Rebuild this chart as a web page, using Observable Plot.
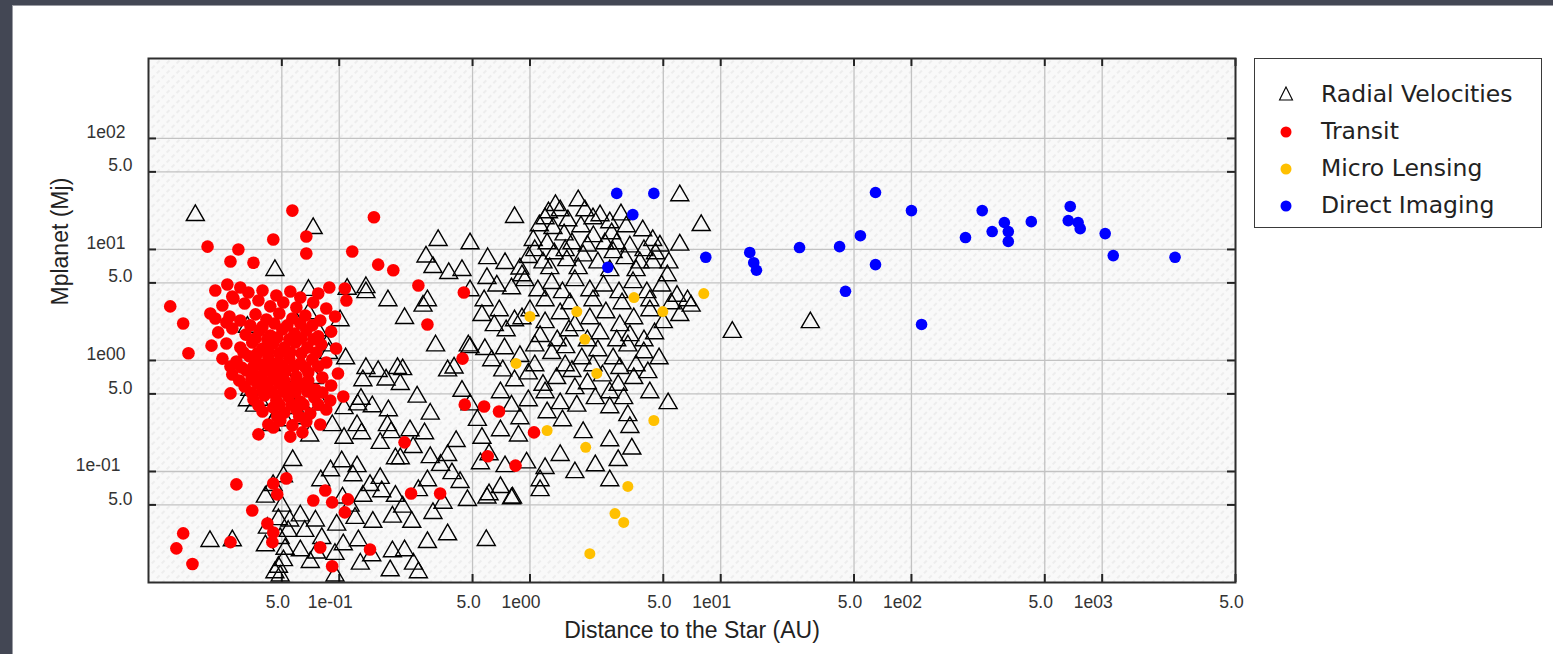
<!DOCTYPE html>
<html><head><meta charset="utf-8">
<script src="https://cdn.jsdelivr.net/npm/d3@7"></script>
<script src="https://cdn.jsdelivr.net/npm/@observablehq/plot@0.6"></script>
<style>
html,body{margin:0;padding:0;background:#fff;}
#page{position:relative;width:1553px;height:654px;background:#434754;overflow:hidden;}
#slide{position:absolute;left:12px;top:5px;right:0;bottom:0;background:#fff;border-top:1px solid #9a9ca3;border-left:1px solid #9a9ca3;}
#chart{position:absolute;left:0;top:0;}
#legend{position:absolute;left:1254px;top:58px;width:288px;height:170px;border:1.5px solid #3a3a3a;background:#fff;box-sizing:border-box;font-family:"DejaVu Sans",sans-serif;font-size:23.5px;color:#222;}
.row{position:absolute;left:0;height:30px;width:100%;}
.row svg{position:absolute;left:21px;top:5px;}
.row span{position:absolute;left:66px;top:1px;line-height:28px;white-space:nowrap;}
</style></head>
<body>
<div id="page"><div id="slide"></div><div id="chart"></div>
<div id="legend"></div></div>
<script>
// ---- data (distance in AU, mass in Jupiter masses) ----
const seriesNames = ["Radial Velocities", "Transit", "Micro Lensing", "Direct Imaging"];
const xTicks = [0.05, 0.1, 0.5, 1, 5, 10, 50, 100, 500, 1000, 5000];
const yTicks = [0.05, 0.1, 0.5, 1, 5, 10, 50, 100];

const radialVelocities = [
[0.0176,20.3],[0.073,15.5],[0.046,6.5],[0.069,4.3],[0.110,4.4],[0.138,4.1],[0.060,2.15],[0.077,1.86],
[0.108,1.04],[0.138,0.85],[0.176,0.67],[0.209,0.61],[0.202,0.85],[0.160,0.80],[0.256,0.47],[0.300,0.33],
[0.235,0.234],[0.181,0.354],[0.130,0.45],[0.106,0.37],[0.080,0.40],[0.061,0.63],[0.052,0.72],[0.038,0.44],
[0.034,0.54],[0.058,0.37],[0.066,0.354],[0.124,0.26],[0.149,0.385],[0.133,0.66],[0.088,1.16],[0.070,1.04],
[0.101,2.29],[0.086,1.36],[0.074,0.69],[0.046,0.30],[0.063,0.30],[0.092,0.26],[0.131,0.22],[0.179,0.26],
[0.28,0.22],[0.164,0.18],[0.106,0.20],[0.070,0.21],[0.044,0.26],[0.275,3.1],[0.22,2.4],[0.29,3.47],
[0.375,6.1],[0.285,8.6],[0.31,6.9],[0.138,4.55],[0.44,6.5],[0.485,11.3],[0.33,12.1],[0.18,3.47],
[0.32,1.36],[0.37,0.81],[0.40,0.86],[0.215,0.83],[0.485,1.31],[0.65,2.07],[0.58,1.26],[0.44,0.53],
[0.485,0.40],[0.53,0.29],[0.56,0.20],[0.41,0.187],[0.37,0.14],[0.30,0.134],[0.244,0.165],[0.209,0.131],
[0.164,0.087],[0.124,0.111],[0.103,0.123],[0.187,0.225],[0.125,0.40],[0.057,0.126],
[0.041,0.059],[0.051,0.090],[0.045,0.075],[0.050,0.049],[0.0625,0.040],[0.055,0.036],[0.048,0.037],[0.042,0.031],
[0.049,0.025],[0.052,0.020],[0.048,0.0138],[0.049,0.0115],[0.054,0.029],[0.066,0.029],[0.075,0.036],[0.081,0.025],
[0.097,0.033],[0.114,0.049],[0.104,0.058],[0.133,0.060],[0.145,0.075],[0.167,0.066],[0.197,0.060],[0.215,0.048],
[0.24,0.035],[0.19,0.039],[0.150,0.035],[0.121,0.038],[0.105,0.022],[0.095,0.018],[0.076,0.0185],[0.0625,0.0194],
[0.126,0.0239],[0.148,0.0175],[0.185,0.0128],[0.26,0.0123],[0.22,0.0194],[0.29,0.023],[0.37,0.027],[0.35,0.052],
[0.31,0.042],[0.26,0.0675],[0.39,0.096],[0.43,0.080],[0.47,0.055],[0.61,0.062],[0.70,0.072],[0.80,0.057],
[0.74,0.111],[0.55,0.118],[0.34,0.114],[0.29,0.083],[0.197,0.131],[0.118,0.092],[0.090,0.102],[0.080,0.083],
[0.129,0.0147],[0.095,0.0115],[0.0705,0.0152],[0.19,0.019],[0.245,0.0147],[0.021,0.0235],[0.0275,0.0239],[0.59,0.024],
[0.83,19.5],[6.1,30.6],[7.9,16.5],[5.3,0.41],[11.5,1.8],[29.5,2.2],[6.1,11.0],[4.4,7.6],
[1.36,25],[1.44,22.4],[1.79,27.6],[1.25,21.5],[1.94,22.4],[2.33,20.2],[3.0,20.6],[1.58,18.2],
[1.12,16.4],[1.32,15.5],[1.51,13.6],[1.85,16.1],[2.15,13.1],[2.68,13.9],[3.2,16.1],[3.9,14.8],
[4.4,12.1],[1.04,12.1],[1.23,11.3],[1.66,11.3],[2.47,11.3],[3.34,10.6],[4.8,10.8],[0.98,8.5],
[1.17,7.6],[1.34,9.2],[1.56,7.96],[1.9,8.8],[2.27,7.6],[2.73,9.4],[3.15,8.3],[3.77,7.6],
[4.55,9.2],[5.35,7.6],[0.886,6.7],[0.74,7.5],[0.60,8.3],[0.67,4.7],[0.80,4.45],[0.94,5.26],
[1.1,4.27],[1.3,4.95],[1.48,4.1],[1.72,5.26],[2.06,4.27],[2.43,4.7],[2.93,4.1],[3.47,5.05],
[4.1,4.1],[4.9,4.7],[5.9,3.8],[6.7,3.47],[0.575,3.47],[0.485,4.27],[0.595,5.5],[0.56,2.55],
[0.69,2.82],[0.83,2.29],[1.0,2.82],[1.2,2.2],[1.44,2.65],[1.72,2.07],[2.06,2.39],[2.5,2.7],
[2.96,2.07],[3.5,2.39],[4.25,2.82],[5.0,2.2],[6.1,2.55],[7.0,3.1],[0.75,1.86],[1.13,1.65],
[1.6,1.86],[2.33,1.75],[3.34,1.68],[4.5,1.75],[0.475,1.36],[0.735,1.28],[0.886,1.09],[1.06,1.36],
[1.3,1.16],[1.54,1.31],[1.87,1.04],[2.27,1.23],[2.73,1.04],[3.26,1.36],[3.95,1.18],[4.75,1.04],
[0.63,1.0],[0.72,0.81],[0.83,0.66],[0.98,0.76],[1.17,0.60],[1.38,0.69],[1.66,0.80],[2.0,0.62],
[2.4,0.73],[2.9,0.60],[3.5,0.69],[4.15,0.78],[2.96,0.85],[1.72,0.56],[0.70,0.515],[0.80,0.39],
[0.98,0.436],[1.23,0.34],[1.44,0.41],[1.76,0.39],[2.2,0.455],[2.62,0.377],[3.1,0.455],[3.26,0.32],
[1.48,0.288],[0.886,0.30],[1.9,0.225],[2.62,0.19],[3.34,0.25],[3.42,0.16],[2.9,0.126],[1.44,0.14],
[1.2,0.107],[0.96,0.12],[1.13,0.083],[1.72,0.098],[2.2,0.113],[2.62,0.083],[0.61,0.142],[0.87,0.21],
[0.70,0.234],[0.595,0.058],[0.81,0.058],[1.13,0.0675],
[0.033,2.0],[0.069,2.65],[0.036,0.39],[0.033,0.436],[0.052,0.288],[0.046,0.0123],[0.051,0.0158],[0.041,0.0215],
[1.2,19.0],[2.14,19.0],[2.62,17.5],[1.06,9.8],[1.53,9.8],[2.0,10.8],[2.85,11.3],[3.96,9.8],
[1.27,6.75],[1.79,6.75],[2.62,6.47],[3.6,6.47],[0.908,5.83],[5.25,5.83],[1.2,3.47],[1.62,3.26],
[2.14,3.47],[3.04,3.26],[4.25,3.47],[5.5,3.26],[0.908,2.39],[1.39,1.51],[2.0,1.51],[2.85,1.51],
[3.96,1.51],[1.06,0.90],[1.53,0.90],[2.14,0.90],[3.6,0.90],[1.2,0.515],[2.62,0.515],[4.25,0.515]
];

const transit = [
[0.0568,22.4],[0.0204,10.6],[0.0296,10.0],[0.0269,7.8],[0.0355,7.6],[0.0451,12.3],[0.0672,13.1],[0.0672,9.2],
[0.0259,4.83],[0.0303,4.55],[0.0279,3.62],[0.0130,3.07],[0.0152,2.15],[0.0211,2.65],[0.0162,1.16],[0.0887,4.55],
[0.152,19.5],[0.117,9.6],[0.160,7.3],[0.192,6.5],[0.26,4.73],[0.107,4.45],[0.109,3.47],[0.29,2.11],[0.45,4.10],
[0.0269,0.505],[0.0377,0.216],[0.0554,0.206],[0.0641,0.225],[0.0451,0.249],
[0.0289,0.0765],[0.0451,0.0780],[0.0528,0.0866],[0.0473,0.0622],[0.0350,0.0445],[0.0420,0.0340],[0.0451,0.0282],[0.0446,0.0231],
[0.0152,0.0277],[0.0140,0.0203],[0.0170,0.0147],[0.0269,0.0231],[0.0731,0.0548],[0.0845,0.0675],[0.0918,0.0527],[0.0795,0.0207],[0.0918,0.0140],
[0.443,1.04],[0.455,0.40],[0.575,0.385],[0.688,0.347],[1.05,0.225],[0.60,0.137],[0.84,0.113],[0.22,0.183],
[0.338,0.0634],[0.238,0.0634],[0.145,0.0198],[0.107,0.0428],[0.111,0.0561],
[0.0224,4.27],[0.0275,3.77],[0.0334,4.10],[0.0396,4.27],[0.0468,3.85],[0.0554,4.18],[0.0625,3.69],[0.0776,4.01],
[0.0244,3.13],[0.0319,3.26],[0.0377,3.47],[0.0435,3.07],[0.0509,3.33],[0.0596,3.00],[0.0731,3.33],[0.0855,2.94],
[0.0224,2.39],[0.0266,2.49],[0.0303,2.29],[0.0364,2.60],[0.0415,2.34],[0.0485,2.65],[0.0568,2.39],[0.0664,2.54],[0.0795,2.29],[0.0951,2.49],
[0.0232,1.79],[0.0275,1.94],[0.0323,1.71],[0.0382,1.86],[0.0435,1.68],[0.0503,1.90],[0.0582,1.75],[0.0672,1.86],[0.0776,1.65],[0.0907,1.82],
[0.0214,1.36],[0.0256,1.42],[0.0303,1.31],[0.0350,1.45],[0.0396,1.28],[0.0451,1.42],[0.0516,1.31],[0.0589,1.45],[0.0680,1.31],[0.0805,1.39],[0.0962,1.28],
[0.0244,1.04],[0.0289,0.979],[0.0338,1.09],[0.0377,0.940],[0.0425,1.06],[0.0479,0.959],[0.0547,1.04],[0.0625,0.940],[0.0722,1.02],[0.0855,0.959],
[0.0275,0.748],[0.0326,0.813],[0.0368,0.718],[0.0410,0.813],[0.0462,0.733],[0.0522,0.796],[0.0596,0.718],[0.0688,0.780],[0.0815,0.703],[0.0985,0.764],
[0.0319,0.583],[0.0373,0.621],[0.0425,0.559],[0.0485,0.621],[0.0554,0.571],[0.0633,0.608],[0.0749,0.548],[0.0907,0.595],
[0.0355,0.445],[0.0405,0.484],[0.0468,0.436],[0.0541,0.474],[0.0625,0.427],[0.0740,0.464],[0.0897,0.436],[0.105,0.474],
[0.0396,0.347],[0.0451,0.377],[0.0516,0.340],[0.0596,0.362],[0.0705,0.333],[0.0855,0.362],
[0.0425,0.265],[0.0491,0.288],[0.0568,0.260],[0.0672,0.282],[0.0795,0.265],
[0.0364,1.58],[0.0420,1.55],[0.0473,1.61],[0.0547,1.55],[0.0633,1.58],[0.0731,1.55],
[0.0315,1.18],[0.0373,1.16],[0.0425,1.21],[0.0485,1.16],[0.0554,1.18],[0.0633,1.16],[0.0758,1.18],
[0.0269,0.883],[0.0308,0.865],[0.0355,0.883],[0.0400,0.865],[0.0451,0.883],[0.0509,0.865],[0.0582,0.883],[0.0664,0.865],[0.0776,0.883],
[0.0299,0.660],[0.0346,0.674],[0.0396,0.660],[0.0446,0.674],[0.0516,0.660],[0.0596,0.674],[0.0688,0.660],
[0.0346,0.515],[0.0396,0.526],[0.0446,0.515],[0.0509,0.526],[0.0589,0.515],[0.0680,0.526],[0.0815,0.515],
[0.0377,0.393],[0.0485,0.401],[0.0561,0.401],[0.0649,0.401],[0.0776,0.401],[0.0473,0.313],[0.0617,0.313],
[0.0256,2.20],[0.0342,2.07],[0.0396,2.02],[0.0457,2.15],[0.0534,2.07],[0.0625,2.15],[0.0722,2.07]
];

const microLensing = [
[8.15,4.01],[3.51,3.69],[4.97,2.76],[1.76,2.76],[1.0,2.49],[1.94,1.55],[0.845,0.94],[2.24,0.764],
[4.46,0.288],[1.23,0.234],[1.96,0.165],[3.26,0.0734],[2.79,0.0418],[3.1,0.0348],[2.06,0.0182]
];

const directImaging = [
[2.85,32],[4.46,32],[3.46,20.6],[2.56,6.9],[8.35,8.5],[14.2,9.4],[14.9,7.6],[15.4,6.5],
[25.9,10.4],[42,10.6],[54,13.3],[64.8,32.6],[64.8,7.3],[45.1,4.2],[100,22.4],[113,2.11],
[192,12.8],[235,22.4],[265,14.5],[307,17.5],[322,14.5],[322,11.8],[425,17.8],[664,18.2],
[680,24.4],[748,17.5],[767,15.4],[1037,13.9],[1143,8.8],[2410,8.5]
];

const seriesColors = ["#000000", "#ff0000", "#ffc000", "#0000ff"];

// ---- chart ----
const fmt = v => {
  const e = Math.log10(v), n = Math.round(e);
  if (Math.abs(e - n) < 1e-9) return "1e" + (n < 0 ? "-" : "") + String(Math.abs(n)).padStart(2, "0");
  return (v / Math.pow(10, Math.floor(e))).toFixed(1);
};
const isPow = v => Math.abs(Math.log10(v) - Math.round(Math.log10(v))) < 1e-9;

const defsMark = () => {
  const ns = "http://www.w3.org/2000/svg";
  const d = document.createElementNS(ns, "defs");
  d.innerHTML = '<pattern id="hatch" width="7" height="7" patternUnits="userSpaceOnUse" patternTransform="rotate(45)">' +
    '<rect width="7" height="7" fill="#f9f9f9"/><line x1="1" y1="0" x2="1" y2="4" stroke="#e6e6e6" stroke-width="1.2"/></pattern>';
  return d;
};

const W = 1553, H = 654, mL = 148, mR = 318, mT = 58, mB = 72;
const innerW = W - mL - mR, innerH = H - mT - mB;
const FONT = "Liberation Sans, Arial, sans-serif";
const tickFont = {fontFamily: FONT, fontSize: 17.5, fill: "#333", text: fmt};

const chart = Plot.plot({
  width: W, height: H,
  marginLeft: mL, marginRight: mR, marginTop: mT, marginBottom: mB,
  x: {type: "log", domain: [0.01, 5000], axis: null},
  y: {type: "log", domain: [0.01, 525], axis: null},
  style: {background: "transparent", fontFamily: FONT, color: "#333"},
  marks: [
    defsMark,
    Plot.frame({fill: "url(#hatch)"}),
    Plot.gridX(xTicks, {stroke: "#c2c2c2", strokeOpacity: 1, strokeWidth: 1.3}),
    Plot.gridY(yTicks, {stroke: "#c2c2c2", strokeOpacity: 1, strokeWidth: 1.3}),
    // inward tick marks
    Plot.tickX(xTicks, {x: d => d, insetTop: innerH - 8, stroke: "#222", strokeWidth: 2}),
    Plot.tickX(xTicks, {x: d => d, insetBottom: innerH - 8, stroke: "#222", strokeWidth: 2}),
    Plot.tickY(yTicks, {y: d => d, insetRight: innerW - 8, stroke: "#222", strokeWidth: 2}),
    Plot.tickY(yTicks, {y: d => d, insetLeft: innerW - 8, stroke: "#222", strokeWidth: 2}),
    // data
    Plot.dot(radialVelocities, {x: d => d[0], y: d => d[1], symbol: "triangle", r: 6.7, stroke: seriesColors[0], strokeWidth: 1.4, fill: "none"}),
    Plot.dot(transit, {x: d => d[0], y: d => d[1], r: 6.3, fill: seriesColors[1], stroke: "none"}),
    Plot.dot(microLensing, {x: d => d[0], y: d => d[1], r: 5.5, fill: seriesColors[2], stroke: "none"}),
    Plot.dot(directImaging, {x: d => d[0], y: d => d[1], r: 5.8, fill: seriesColors[3], stroke: "none"}),
    Plot.frame({stroke: "#2e2e2e", strokeWidth: 2}),
    // tick labels
    Plot.text(xTicks.filter(v => !isPow(v)), {x: d => d, frameAnchor: "bottom", dy: 25, dx: -4, ...tickFont}),
    Plot.text(xTicks.filter(v => isPow(v)), {x: d => d, frameAnchor: "bottom", dy: 25, dx: -9, ...tickFont}),
    Plot.text(yTicks.filter(v => !isPow(v)), {y: d => d, frameAnchor: "left", textAnchor: "end", dx: -16, dy: -6, ...tickFont}),
    Plot.text(yTicks.filter(v => isPow(v) && v >= 1), {y: d => d, frameAnchor: "left", textAnchor: "end", dx: -23, dy: -6, ...tickFont}),
    Plot.text(yTicks.filter(v => isPow(v) && v < 1), {y: d => d, frameAnchor: "left", textAnchor: "end", dx: -28, dy: -6, ...tickFont}),
    // axis titles
    Plot.text(["Distance to the Star (AU)"], {frameAnchor: "bottom", dy: 55, fontSize: 23, fill: "#222", fontFamily: FONT}),
    Plot.text(["Mplanet (Mj)"], {frameAnchor: "left", rotate: -90, dx: -88, dy: -15, fontSize: 23, fill: "#222", fontFamily: FONT})
  ]
});
document.getElementById("chart").appendChild(chart);

// ---- legend ----
const legend = document.getElementById("legend");
const rowTops = [20, 57, 94, 131];
seriesNames.forEach((name, i) => {
  const row = document.createElement("div");
  row.className = "row";
  row.style.top = rowTops[i] + "px";
  const sym = i === 0
    ? '<svg width="20" height="20"><path d="M10,3 L16.5,16 L3.5,16 Z" fill="none" stroke="#000" stroke-width="1.1"/></svg>'
    : `<svg width="20" height="20"><circle cx="10" cy="11" r="5.5" fill="${seriesColors[i]}"/></svg>`;
  row.innerHTML = sym + `<span>${name}</span>`;
  legend.appendChild(row);
});
</script>
</body></html>
